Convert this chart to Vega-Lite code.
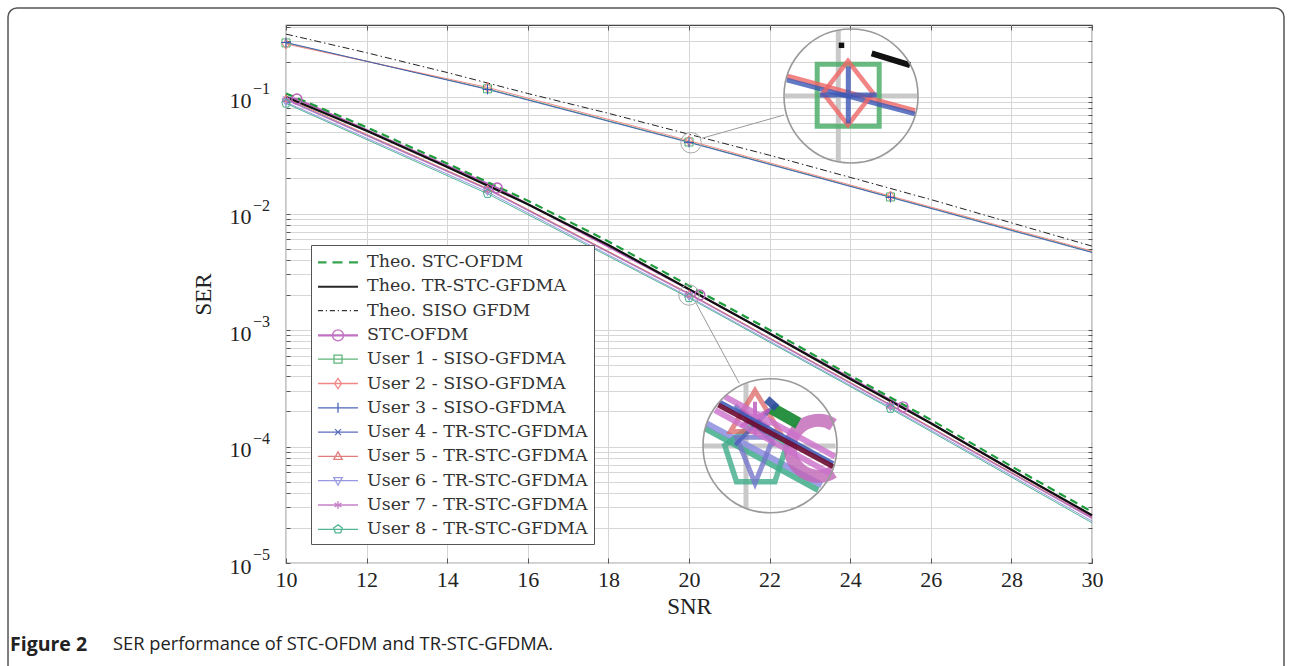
{
  "$schema": "https://vega.github.io/schema/vega-lite/v6.json",
  "width": 806,
  "height": 538,
  "autosize": {"type": "none"},
  "padding": {"left": 286, "top": 25, "right": 200, "bottom": 103},
  "background": "white",
  "config": {
    "view": {"stroke": "#444", "strokeWidth": 1.2},
    "axis": {
      "gridColor": "#d6d6d6",
      "gridWidth": 1,
      "domain": false,
      "ticks": true,
      "tickSize": -5,
      "tickColor": "#555",
      "labelFont": "Liberation Serif",
      "titleFont": "Liberation Serif",
      "labelColor": "#222",
      "titleColor": "#222",
      "titleFontWeight": "normal",
      "labelFontSize": 22,
      "titleFontSize": 23
    }
  },
  "datasets": {
    "curves": [
      {"series": "Theo. STC-OFDM", "snr": 10, "ser": 0.1072},
      {"series": "Theo. STC-OFDM", "snr": 12, "ser": 0.0550},
      {"series": "Theo. STC-OFDM", "snr": 14, "ser": 0.02692},
      {"series": "Theo. STC-OFDM", "snr": 16, "ser": 0.01288},
      {"series": "Theo. STC-OFDM", "snr": 18, "ser": 0.005754},
      {"series": "Theo. STC-OFDM", "snr": 20, "ser": 0.002399},
      {"series": "Theo. STC-OFDM", "snr": 22, "ser": 0.001},
      {"series": "Theo. STC-OFDM", "snr": 24, "ser": 0.0004074},
      {"series": "Theo. STC-OFDM", "snr": 26, "ser": 0.0001698},
      {"series": "Theo. STC-OFDM", "snr": 28, "ser": 0.0000676},
      {"series": "Theo. STC-OFDM", "snr": 30, "ser": 0.0000275},
      {"series": "Theo. TR-STC-GFDMA", "snr": 10, "ser": 0.1},
      {"series": "Theo. TR-STC-GFDMA", "snr": 12, "ser": 0.05129},
      {"series": "Theo. TR-STC-GFDMA", "snr": 14, "ser": 0.02512},
      {"series": "Theo. TR-STC-GFDMA", "snr": 16, "ser": 0.01202},
      {"series": "Theo. TR-STC-GFDMA", "snr": 18, "ser": 0.00537},
      {"series": "Theo. TR-STC-GFDMA", "snr": 20, "ser": 0.002239},
      {"series": "Theo. TR-STC-GFDMA", "snr": 22, "ser": 0.000933},
      {"series": "Theo. TR-STC-GFDMA", "snr": 24, "ser": 0.00038},
      {"series": "Theo. TR-STC-GFDMA", "snr": 26, "ser": 0.0001585},
      {"series": "Theo. TR-STC-GFDMA", "snr": 28, "ser": 0.0000631},
      {"series": "Theo. TR-STC-GFDMA", "snr": 30, "ser": 0.0000257},
      {"series": "Theo. SISO GFDM", "snr": 10, "ser": 0.3467},
      {"series": "Theo. SISO GFDM", "snr": 12, "ser": 0.2399},
      {"series": "Theo. SISO GFDM", "snr": 14, "ser": 0.1622},
      {"series": "Theo. SISO GFDM", "snr": 16, "ser": 0.1072},
      {"series": "Theo. SISO GFDM", "snr": 18, "ser": 0.07244},
      {"series": "Theo. SISO GFDM", "snr": 20, "ser": 0.04786},
      {"series": "Theo. SISO GFDM", "snr": 22, "ser": 0.03162},
      {"series": "Theo. SISO GFDM", "snr": 24, "ser": 0.02042},
      {"series": "Theo. SISO GFDM", "snr": 26, "ser": 0.01318},
      {"series": "Theo. SISO GFDM", "snr": 28, "ser": 0.008318},
      {"series": "Theo. SISO GFDM", "snr": 30, "ser": 0.005248},
      {"series": "STC-OFDM", "snr": 10, "ser": 0.09886},
      {"series": "STC-OFDM", "snr": 10.27, "ser": 0.09616},
      {"series": "STC-OFDM", "snr": 15.24, "ser": 0.01656},
      {"series": "STC-OFDM", "snr": 20.27, "ser": 0.001995},
      {"series": "STC-OFDM", "snr": 25.31, "ser": 0.0002188},
      {"series": "STC-OFDM", "snr": 30, "ser": 0.00002512},
      {"series": "User 1 - SISO-GFDMA", "snr": 10, "ser": 0.2911},
      {"series": "User 1 - SISO-GFDMA", "snr": 15, "ser": 0.1175},
      {"series": "User 1 - SISO-GFDMA", "snr": 20, "ser": 0.04111},
      {"series": "User 1 - SISO-GFDMA", "snr": 25, "ser": 0.01387},
      {"series": "User 1 - SISO-GFDMA", "snr": 30, "ser": 0.004677},
      {"series": "User 2 - SISO-GFDMA", "snr": 10, "ser": 0.2851},
      {"series": "User 2 - SISO-GFDMA", "snr": 15, "ser": 0.1208},
      {"series": "User 2 - SISO-GFDMA", "snr": 20, "ser": 0.04217},
      {"series": "User 2 - SISO-GFDMA", "snr": 25, "ser": 0.01413},
      {"series": "User 2 - SISO-GFDMA", "snr": 30, "ser": 0.004764},
      {"series": "User 3 - SISO-GFDMA", "snr": 10, "ser": 0.2938},
      {"series": "User 3 - SISO-GFDMA", "snr": 15, "ser": 0.1161},
      {"series": "User 3 - SISO-GFDMA", "snr": 20, "ser": 0.04074},
      {"series": "User 3 - SISO-GFDMA", "snr": 25, "ser": 0.01374},
      {"series": "User 3 - SISO-GFDMA", "snr": 30, "ser": 0.004624},
      {"series": "User 4 - TR-STC-GFDMA", "snr": 10, "ser": 0.0955},
      {"series": "User 4 - TR-STC-GFDMA", "snr": 15, "ser": 0.01622},
      {"series": "User 4 - TR-STC-GFDMA", "snr": 20, "ser": 0.002042},
      {"series": "User 4 - TR-STC-GFDMA", "snr": 25, "ser": 0.0002265},
      {"series": "User 4 - TR-STC-GFDMA", "snr": 30, "ser": 0.00002427},
      {"series": "User 5 - TR-STC-GFDMA", "snr": 10, "ser": 0.09772},
      {"series": "User 5 - TR-STC-GFDMA", "snr": 15, "ser": 0.01641},
      {"series": "User 5 - TR-STC-GFDMA", "snr": 20, "ser": 0.002065},
      {"series": "User 5 - TR-STC-GFDMA", "snr": 25, "ser": 0.0002291},
      {"series": "User 5 - TR-STC-GFDMA", "snr": 30, "ser": 0.00002455},
      {"series": "User 6 - TR-STC-GFDMA", "snr": 10, "ser": 0.09016},
      {"series": "User 6 - TR-STC-GFDMA", "snr": 15, "ser": 0.01531},
      {"series": "User 6 - TR-STC-GFDMA", "snr": 20, "ser": 0.001928},
      {"series": "User 6 - TR-STC-GFDMA", "snr": 25, "ser": 0.0002163},
      {"series": "User 6 - TR-STC-GFDMA", "snr": 30, "ser": 0.00002291},
      {"series": "User 7 - TR-STC-GFDMA", "snr": 10, "ser": 0.09441},
      {"series": "User 7 - TR-STC-GFDMA", "snr": 15, "ser": 0.01603},
      {"series": "User 7 - TR-STC-GFDMA", "snr": 20, "ser": 0.002018},
      {"series": "User 7 - TR-STC-GFDMA", "snr": 25, "ser": 0.0002239},
      {"series": "User 7 - TR-STC-GFDMA", "snr": 30, "ser": 0.00002399},
      {"series": "User 8 - TR-STC-GFDMA", "snr": 10, "ser": 0.0881},
      {"series": "User 8 - TR-STC-GFDMA", "snr": 15, "ser": 0.01479},
      {"series": "User 8 - TR-STC-GFDMA", "snr": 20, "ser": 0.001884},
      {"series": "User 8 - TR-STC-GFDMA", "snr": 25, "ser": 0.0002113},
      {"series": "User 8 - TR-STC-GFDMA", "snr": 30, "ser": 0.00002213}
    ],
    "decades": [
      {"snr": 10, "ser": 0.1, "exp": "−1"},
      {"snr": 10, "ser": 0.01, "exp": "−2"},
      {"snr": 10, "ser": 0.001, "exp": "−3"},
      {"snr": 10, "ser": 0.0001, "exp": "−4"},
      {"snr": 10, "ser": 0.00001, "exp": "−5"}
    ],
    "annot": [
      {"id": "frame", "snr": 3.102, "snr2": 34.764, "ser": 0.5807, "ser2": 6.67e-7},
      {"id": "cap", "snr": 3.151, "ser": 1.977e-6, "label": "Figure 2"},
      {"id": "cap2", "snr": 5.707, "ser": 1.977e-6, "label": "SER performance of STC-OFDM and TR-STC-GFDMA."},
      {"id": "bigc", "snr": 24.02, "ser": 0.102},
      {"id": "bigc", "snr": 22.01, "ser": 0.00010139},
      {"id": "smallc", "snr": 20.05, "ser": 0.04052},
      {"id": "smallc", "snr": 20.0, "ser": 0.001997},
      {"id": "conn", "snr": 20.315, "ser": 0.04419, "snr2": 22.357, "ser2": 0.07006},
      {"id": "conn", "snr": 20.174, "ser": 0.001705, "snr2": 21.248, "ser2": 0.0003487},
      {"id": "zgrid", "snr": 23.705, "ser": 0.3759, "snr2": 23.705, "ser2": 0.02783},
      {"id": "zgrid", "snr": 22.382, "ser": 0.102, "snr2": 25.658, "ser2": 0.102},
      {"id": "zgrid", "snr": 21.414, "ser": 0.0003508, "snr2": 21.414, "ser2": 0.00002936},
      {"id": "zgrid", "snr": 20.347, "ser": 0.00010099, "snr2": 23.635, "ser2": 0.00010099},
      {"id": "m1red", "snr": 22.424, "ser": 0.15149, "snr2": 25.608, "ser2": 0.07625},
      {"id": "m1blue", "snr": 22.424, "ser": 0.13993, "snr2": 25.608, "ser2": 0.07145},
      {"id": "m1sq", "snr": 23.95, "ser": 0.10363},
      {"id": "m1dia", "snr": 23.945, "ser": 0.10822},
      {"id": "m1plus", "snr": 23.953, "ser": 0.10403},
      {"id": "m1dot", "snr": 23.784, "ser": 0.27781},
      {"id": "m1dash", "snr": 24.533, "ser": 0.23719, "snr2": 25.484, "ser2": 0.18821},
      {"id": "m2teal", "snr": 20.397, "ser": 0.00014327, "snr2": 23.208, "ser2": 0.00004232},
      {"id": "m2lav", "snr": 20.439, "ser": 0.00015811, "snr2": 23.293, "ser2": 0.00004672},
      {"id": "m2pink", "snr": 20.645, "ser": 0.00020564, "snr2": 23.499, "ser2": 0.00005888},
      {"id": "m2pink", "snr": 20.893, "ser": 0.00026761, "snr2": 23.623, "ser2": 0.00008176},
      {"id": "m2dark", "snr": 20.727, "ser": 0.0002271, "snr2": 23.581, "ser2": 0.00006707},
      {"id": "m2blue", "snr": 20.769, "ser": 0.00024238, "snr2": 23.581, "ser2": 0.00007175},
      {"id": "m2green", "snr": 22.05, "ser": 0.00021266, "snr2": 22.712, "ser2": 0.00015811},
      {"id": "m2bseg", "snr": 21.928, "ser": 0.00025412, "snr2": 22.176, "ser2": 0.00021393},
      {"id": "m2arc", "snr": 23.208, "ser": 0.0000965},
      {"id": "m2tri", "snr": 21.638, "ser": 0.00019393},
      {"id": "m2trid", "snr": 21.638, "ser": 0.00007967},
      {"id": "m2pent", "snr": 21.655, "ser": 0.00008404},
      {"id": "m2star", "snr": 21.638, "ser": 0.00017468},
      {"id": "m2x", "snr": 21.638, "ser": 0.0001529}
    ]
  },
  "encoding": {
    "x": {
      "field": "snr",
      "type": "quantitative",
      "scale": {"domain": [10, 30], "nice": false, "zero": false},
      "axis": {
        "title": "SNR",
        "values": [10, 12, 14, 16, 18, 20, 22, 24, 26, 28, 30],
        "labelFlush": false,
        "labelPadding": 11,
        "titlePadding": 5
      }
    },
    "y": {
      "field": "ser",
      "type": "quantitative",
      "scale": {"type": "log", "domain": [0.00001, 0.415], "nice": false},
      "axis": {
        "title": "SER",
        "values": [0.00001, 0.00002, 0.00003, 0.00004, 0.00005, 0.00006, 0.00007, 0.00008, 0.00009,
                   0.0001, 0.0002, 0.0003, 0.0004, 0.0005, 0.0006, 0.0007, 0.0008, 0.0009,
                   0.001, 0.002, 0.003, 0.004, 0.005, 0.006, 0.007, 0.008, 0.009,
                   0.01, 0.02, 0.03, 0.04, 0.05, 0.06, 0.07, 0.08, 0.09,
                   0.1, 0.2, 0.3, 0.4],
        "labelExpr": "(datum.value == 0.1 || datum.value == 0.01 || datum.value == 0.001 || datum.value == 0.0001 || datum.value == 0.00001) ? '10' : ''",
        "labelOverlap": false,
        "labelPadding": 39,
        "labelOffset": 3,
        "tickSize": -4,
        "titlePadding": 14
      }
    }
  },
  "resolve": {"axis": {"x": "independent", "y": "independent"}},
  "layer": [
    {
      "layer": [
        {
          "data": {"name": "annot"},
          "transform": [{"filter": "datum.id == 'frame'"}],
          "mark": {"type": "rect", "fill": null, "fillOpacity": 0, "stroke": "#555", "strokeWidth": 1.5, "cornerRadius": 9},
          "encoding": {"x2": {"field": "snr2"}, "y2": {"field": "ser2"}}
        },
        {
          "data": {"name": "annot"},
          "transform": [{"filter": "datum.id == 'cap'"}],
          "mark": {"type": "text", "align": "left", "baseline": "middle", "font": "Open Sans", "fontSize": 19.5, "fontWeight": "bold", "color": "#222"},
          "encoding": {"text": {"field": "label"}}
        },
        {
          "data": {"name": "annot"},
          "transform": [{"filter": "datum.id == 'cap2'"}],
          "mark": {"type": "text", "align": "left", "baseline": "middle", "font": "Open Sans", "fontSize": 18.3, "color": "#222"},
          "encoding": {"text": {"field": "label"}}
        },
        {
          "data": {"name": "decades"},
          "mark": {"type": "text", "align": "left", "baseline": "middle", "dx": -33, "dy": -8, "font": "Liberation Serif", "fontSize": 16, "color": "#222"},
          "encoding": {"text": {"field": "exp"}}
        },
        {
          "data": {"name": "curves"},
          "transform": [{"filter": "datum.series == 'Theo. SISO GFDM'"}],
          "mark": {"type": "line", "strokeWidth": 1, "strokeDash": [7, 3, 1.5, 3]},
          "encoding": {"color": {"field": "series", "type": "nominal"}}
        },
        {
          "data": {"name": "curves"},
          "transform": [{"filter": "indexof(datum.series, 'User') == 0"}],
          "mark": {"type": "line", "strokeWidth": 1, "opacity": 0.9},
          "encoding": {"color": {"field": "series", "type": "nominal"}}
        },
        {
          "data": {"name": "curves"},
          "transform": [{"filter": "datum.series == 'STC-OFDM'"}],
          "mark": {"type": "line", "strokeWidth": 2},
          "encoding": {"color": {"field": "series", "type": "nominal"}}
        },
        {
          "data": {"name": "curves"},
          "transform": [{"filter": "datum.series == 'Theo. TR-STC-GFDMA'"}],
          "mark": {"type": "line", "strokeWidth": 2.2},
          "encoding": {"color": {"field": "series", "type": "nominal"}}
        },
        {
          "data": {"name": "curves"},
          "transform": [{"filter": "datum.series == 'Theo. STC-OFDM'"}],
          "mark": {"type": "line", "strokeWidth": 2.2, "strokeDash": [8, 5]},
          "encoding": {"color": {"field": "series", "type": "nominal"}}
        },
        {
          "data": {"name": "curves"},
          "transform": [{"filter": "datum.series == 'User 1 - SISO-GFDMA' && datum.snr < 29"}],
          "mark": {"type": "point", "shape": "square", "size": 64, "filled": false, "strokeWidth": 1, "opacity": 1},
          "encoding": {"color": {"field": "series", "type": "nominal"}}
        },
        {
          "data": {"name": "curves"},
          "transform": [{"filter": "datum.series == 'User 2 - SISO-GFDMA' && datum.snr < 29"}],
          "mark": {"type": "point", "shape": "M-0.7,0L0,-1L0.7,0L0,1Z", "size": 100, "filled": false, "strokeWidth": 1, "opacity": 1},
          "encoding": {"color": {"field": "series", "type": "nominal"}}
        },
        {
          "data": {"name": "curves"},
          "transform": [{"filter": "datum.series == 'User 3 - SISO-GFDMA' && datum.snr < 29"}],
          "mark": {"type": "point", "shape": "M-1,0L1,0M0,-1L0,1", "size": 100, "filled": false, "strokeWidth": 1, "opacity": 1},
          "encoding": {"color": {"field": "series", "type": "nominal"}}
        },
        {
          "data": {"name": "curves"},
          "transform": [{"filter": "datum.series == 'User 4 - TR-STC-GFDMA' && datum.snr < 29"}],
          "mark": {"type": "point", "shape": "M-1,-1L1,1M-1,1L1,-1", "size": 36, "filled": false, "strokeWidth": 1, "opacity": 1},
          "encoding": {"color": {"field": "series", "type": "nominal"}}
        },
        {
          "data": {"name": "curves"},
          "transform": [{"filter": "datum.series == 'User 5 - TR-STC-GFDMA' && datum.snr < 29"}],
          "mark": {"type": "point", "shape": "triangle-up", "size": 64, "filled": false, "strokeWidth": 1, "opacity": 1},
          "encoding": {"color": {"field": "series", "type": "nominal"}}
        },
        {
          "data": {"name": "curves"},
          "transform": [{"filter": "datum.series == 'User 6 - TR-STC-GFDMA' && datum.snr < 29"}],
          "mark": {"type": "point", "shape": "triangle-down", "size": 64, "filled": false, "strokeWidth": 1, "opacity": 1},
          "encoding": {"color": {"field": "series", "type": "nominal"}}
        },
        {
          "data": {"name": "curves"},
          "transform": [{"filter": "datum.series == 'User 7 - TR-STC-GFDMA' && datum.snr < 29"}],
          "mark": {"type": "point", "shape": "M0,-1L0,1M-0.87,-0.5L0.87,0.5M-0.87,0.5L0.87,-0.5", "size": 64, "filled": false, "strokeWidth": 1, "opacity": 1},
          "encoding": {"color": {"field": "series", "type": "nominal"}}
        },
        {
          "data": {"name": "curves"},
          "transform": [{"filter": "datum.series == 'User 8 - TR-STC-GFDMA' && datum.snr < 29"}],
          "mark": {"type": "point", "shape": "M0,-1L0.951,-0.309L0.588,0.809L-0.588,0.809L-0.951,-0.309Z", "size": 81, "filled": false, "strokeWidth": 1, "opacity": 1},
          "encoding": {"color": {"field": "series", "type": "nominal"}}
        },
        {
          "data": {"name": "curves"},
          "transform": [{"filter": "datum.series == 'STC-OFDM' && datum.snr > 10.1 && datum.snr < 29"}],
          "mark": {"type": "point", "shape": "circle", "size": 100, "filled": false, "strokeWidth": 1.4, "opacity": 1},
          "encoding": {"color": {"field": "series", "type": "nominal"}}
        },
        {
          "data": {"name": "annot"},
          "transform": [{"filter": "datum.id == 'zgrid'"}],
          "mark": {"type": "rule", "color": "#c9c9c9", "strokeWidth": 5, "strokeCap": "butt"},
          "encoding": {"x2": {"field": "snr2"}, "y2": {"field": "ser2"}}
        },
        {
          "data": {"name": "annot"},
          "transform": [{"filter": "datum.id == 'm1dot'"}],
          "mark": {"type": "point", "shape": "square", "size": 30, "filled": true, "color": "#111", "opacity": 1}
        },
        {
          "data": {"name": "annot"},
          "transform": [{"filter": "datum.id == 'm1dash'"}],
          "mark": {"type": "rule", "color": "#111", "strokeWidth": 6, "strokeCap": "butt"},
          "encoding": {"x2": {"field": "snr2"}, "y2": {"field": "ser2"}}
        },
        {
          "data": {"name": "annot"},
          "transform": [{"filter": "datum.id == 'm1sq'"}],
          "mark": {"type": "point", "shape": "square", "size": 3844, "filled": false, "color": "#4fae6c", "strokeWidth": 5, "opacity": 0.85}
        },
        {
          "data": {"name": "annot"},
          "transform": [{"filter": "datum.id == 'm1red'"}],
          "mark": {"type": "rule", "color": "#ee6666", "strokeWidth": 5, "opacity": 0.8, "strokeCap": "butt"},
          "encoding": {"x2": {"field": "snr2"}, "y2": {"field": "ser2"}}
        },
        {
          "data": {"name": "annot"},
          "transform": [{"filter": "datum.id == 'm1blue'"}],
          "mark": {"type": "rule", "color": "#3b57b5", "strokeWidth": 4.5, "opacity": 0.8, "strokeCap": "butt"},
          "encoding": {"x2": {"field": "snr2"}, "y2": {"field": "ser2"}}
        },
        {
          "data": {"name": "annot"},
          "transform": [{"filter": "datum.id == 'm1dia'"}],
          "mark": {"type": "point", "shape": "M-0.78,0L0,-1L0.78,0L0,1Z", "size": 4096, "filled": false, "color": "#ee6666", "strokeWidth": 4.5, "opacity": 0.8}
        },
        {
          "data": {"name": "annot"},
          "transform": [{"filter": "datum.id == 'm1plus'"}],
          "mark": {"type": "point", "shape": "M-1,0L1,0M0,-1L0,1", "size": 3249, "filled": false, "color": "#3b57b5", "strokeWidth": 5, "opacity": 0.8}
        },
        {
          "data": {"name": "annot"},
          "transform": [{"filter": "datum.id == 'm2teal'"}],
          "mark": {"type": "rule", "color": "#40ad8b", "strokeWidth": 6, "opacity": 0.85, "strokeCap": "butt"},
          "encoding": {"x2": {"field": "snr2"}, "y2": {"field": "ser2"}}
        },
        {
          "data": {"name": "annot"},
          "transform": [{"filter": "datum.id == 'm2lav'"}],
          "mark": {"type": "rule", "color": "#8d8de0", "strokeWidth": 6, "opacity": 0.85, "strokeCap": "butt"},
          "encoding": {"x2": {"field": "snr2"}, "y2": {"field": "ser2"}}
        },
        {
          "data": {"name": "annot"},
          "transform": [{"filter": "datum.id == 'm2pent'"}],
          "mark": {"type": "point", "shape": "M0,-1L0.951,-0.309L0.588,0.809L-0.588,0.809L-0.951,-0.309Z", "size": 4251, "filled": false, "color": "#40ad8b", "strokeWidth": 5.5, "opacity": 0.8}
        },
        {
          "data": {"name": "annot"},
          "transform": [{"filter": "datum.id == 'm2trid'"}],
          "mark": {"type": "point", "shape": "M-1,-1.12L1,-1.12L0,1.37Z", "size": 1369, "filled": false, "color": "#7777cc", "strokeWidth": 5, "opacity": 0.8}
        },
        {
          "data": {"name": "annot"},
          "transform": [{"filter": "datum.id == 'm2tri'"}],
          "mark": {"type": "point", "shape": "M0,-0.91L1,0.76L-1,0.76Z", "size": 2401, "filled": false, "color": "#dd6666", "strokeWidth": 5, "opacity": 0.75}
        },
        {
          "data": {"name": "annot"},
          "transform": [{"filter": "datum.id == 'm2x'"}],
          "mark": {"type": "point", "shape": "M-1,-1L1,1M-1,1L1,-1", "size": 1600, "filled": false, "color": "#4b5fb8", "strokeWidth": 4, "opacity": 0.75}
        },
        {
          "data": {"name": "annot"},
          "transform": [{"filter": "datum.id == 'm2star'"}],
          "mark": {"type": "point", "shape": "M0,-1L0,1M-0.87,-0.5L0.87,0.5M-0.87,0.5L0.87,-0.5", "size": 1089, "filled": false, "color": "#bb55bb", "strokeWidth": 4, "opacity": 0.8}
        },
        {
          "data": {"name": "annot"},
          "transform": [{"filter": "datum.id == 'm2arc'"}],
          "mark": {"type": "point", "shape": "M0.536,-0.844A1,1 0 1 0 0.536,0.844", "size": 3136, "filled": false, "color": "#c066b6", "strokeWidth": 13, "opacity": 0.8, "strokeCap": "butt"}
        },
        {
          "data": {"name": "annot"},
          "transform": [{"filter": "datum.id == 'm2pink'"}],
          "mark": {"type": "rule", "color": "#cc70cc", "strokeWidth": 6, "opacity": 0.8, "strokeCap": "butt"},
          "encoding": {"x2": {"field": "snr2"}, "y2": {"field": "ser2"}}
        },
        {
          "data": {"name": "annot"},
          "transform": [{"filter": "datum.id == 'm2blue'"}],
          "mark": {"type": "rule", "color": "#3b57b5", "strokeWidth": 4, "opacity": 0.85, "strokeCap": "butt"},
          "encoding": {"x2": {"field": "snr2"}, "y2": {"field": "ser2"}}
        },
        {
          "data": {"name": "annot"},
          "transform": [{"filter": "datum.id == 'm2dark'"}],
          "mark": {"type": "rule", "color": "#6a0a30", "strokeWidth": 5, "opacity": 0.9, "strokeCap": "butt"},
          "encoding": {"x2": {"field": "snr2"}, "y2": {"field": "ser2"}}
        },
        {
          "data": {"name": "annot"},
          "transform": [{"filter": "datum.id == 'm2green'"}],
          "mark": {"type": "rule", "color": "#1e8c38", "strokeWidth": 12, "opacity": 0.95, "strokeCap": "butt"},
          "encoding": {"x2": {"field": "snr2"}, "y2": {"field": "ser2"}}
        },
        {
          "data": {"name": "annot"},
          "transform": [{"filter": "datum.id == 'm2bseg'"}],
          "mark": {"type": "rule", "color": "#2f4f9f", "strokeWidth": 8, "opacity": 0.9, "strokeCap": "butt"},
          "encoding": {"x2": {"field": "snr2"}, "y2": {"field": "ser2"}}
        },
        {
          "data": {"name": "annot"},
          "transform": [{"filter": "datum.id == 'conn'"}],
          "mark": {"type": "rule", "color": "#999", "strokeWidth": 1},
          "encoding": {"x2": {"field": "snr2"}, "y2": {"field": "ser2"}}
        },
        {
          "data": {"name": "annot"},
          "transform": [{"filter": "datum.id == 'smallc'"}],
          "mark": {"type": "point", "shape": "circle", "size": 420, "filled": false, "color": "#aaa", "strokeWidth": 1, "opacity": 1}
        },
        {
          "data": {"name": "annot"},
          "transform": [{"filter": "datum.id == 'bigc'"}],
          "mark": {"type": "point", "shape": "circle", "size": 17956, "filled": false, "color": "#999", "strokeWidth": 1.6, "opacity": 1}
        },
        {
          "data": {"name": "curves"},
          "transform": [{"filter": "datum.snr < 0"}],
          "mark": {"type": "point", "filled": false, "opacity": 1, "strokeWidth": 1.3, "size": 400},
          "encoding": {
            "color": {
              "field": "series",
              "type": "nominal",
              "scale": {
                "domain": ["Theo. STC-OFDM", "Theo. TR-STC-GFDMA", "Theo. SISO GFDM", "STC-OFDM", "User 1 - SISO-GFDMA", "User 2 - SISO-GFDMA", "User 3 - SISO-GFDMA", "User 4 - TR-STC-GFDMA", "User 5 - TR-STC-GFDMA", "User 6 - TR-STC-GFDMA", "User 7 - TR-STC-GFDMA", "User 8 - TR-STC-GFDMA"],
                "range": ["#1e9b3c", "#111111", "#222222", "#bb62bb", "#4fae6c", "#ef7b7b", "#3b57b5", "#4b5fb8", "#df6f6f", "#8d8de0", "#c274c2", "#40ad8b"]
              },
              "legend": {
                "title": null, "orient": "none", "legendX": 25, "legendY": 220, "direction": "vertical",
                "padding": 6, "fillColor": "white", "strokeColor": "#555",
                "labelFont": "DejaVu Serif", "labelFontSize": 17.5, "labelColor": "#333", "labelLimit": 0,
                "symbolSize": 400, "symbolStrokeWidth": 1.3, "rowPadding": 4.3, "labelOffset": 28
              }
            },
            "shape": {
              "field": "series",
              "type": "nominal",
              "scale": {
                "domain": ["Theo. STC-OFDM", "Theo. TR-STC-GFDMA", "Theo. SISO GFDM", "STC-OFDM", "User 1 - SISO-GFDMA", "User 2 - SISO-GFDMA", "User 3 - SISO-GFDMA", "User 4 - TR-STC-GFDMA", "User 5 - TR-STC-GFDMA", "User 6 - TR-STC-GFDMA", "User 7 - TR-STC-GFDMA", "User 8 - TR-STC-GFDMA"],
                "range": [
                  "M-1,0L-0.15,0M0.45,0L1.45,0M2.1,0L3,0M-1,0.08L-0.15,0.08M0.45,0.08L1.45,0.08M2.1,0.08L3,0.08",
                  "M-1,0L3,0M-1,0.08L3,0.08",
                  "M-1,0L-0.5,0M-0.22,0L-0.1,0M0.18,0L0.7,0M0.98,0L1.1,0M1.38,0L1.9,0M2.18,0L2.3,0M2.58,0L3,0",
                  "M-1,0L3,0M-1,0.1L3,0.1M1.55,0.05A0.55,0.55 0 1 1 0.45,0.05A0.55,0.55 0 1 1 1.55,0.05",
                  "M-1,0L3,0M0.6,-0.4L1.4,-0.4L1.4,0.4L0.6,0.4Z",
                  "M-1,0L3,0M0.65,0L1,-0.5L1.35,0L1,0.5Z",
                  "M-1,0L3,0M1,-0.5L1,0.5",
                  "M-1,0L3,0M0.7,-0.3L1.3,0.3M0.7,0.3L1.3,-0.3",
                  "M-1,0L3,0M1,-0.45L1.42,0.3L0.58,0.3Z",
                  "M-1,0L3,0M0.58,-0.3L1.42,-0.3L1,0.45Z",
                  "M-1,0L3,0M1,-0.4L1,0.4M0.65,-0.2L1.35,0.2M0.65,0.2L1.35,-0.2",
                  "M-1,0L3,0M1,-0.45L1.428,-0.139L1.265,0.364L0.735,0.364L0.572,-0.139Z"
                ]
              },
              "legend": {
                "title": null, "orient": "none", "legendX": 25, "legendY": 220, "direction": "vertical",
                "padding": 6, "fillColor": "white", "strokeColor": "#555",
                "labelFont": "DejaVu Serif", "labelFontSize": 17.5, "labelColor": "#333", "labelLimit": 0,
                "symbolSize": 400, "symbolStrokeWidth": 1.3, "rowPadding": 4.3, "labelOffset": 28
              }
            }
          }
        }
      ]
    },
    {
      "data": {"name": "decades"},
      "mark": {"type": "point", "opacity": 0},
      "encoding": {
        "x": {
          "field": "snr",
          "type": "quantitative",
          "scale": {"domain": [10, 30], "nice": false, "zero": false},
          "axis": {"orient": "top", "values": [10, 12, 14, 16, 18, 20, 22, 24, 26, 28, 30], "labels": false, "grid": false, "title": null, "domain": false, "tickSize": -5}
        },
        "y": {
          "field": "ser",
          "type": "quantitative",
          "scale": {"type": "log", "domain": [0.00001, 0.415], "nice": false},
          "axis": {
            "orient": "right",
            "values": [0.00001, 0.00002, 0.00003, 0.00004, 0.00005, 0.00006, 0.00007, 0.00008, 0.00009,
                       0.0001, 0.0002, 0.0003, 0.0004, 0.0005, 0.0006, 0.0007, 0.0008, 0.0009,
                       0.001, 0.002, 0.003, 0.004, 0.005, 0.006, 0.007, 0.008, 0.009,
                       0.01, 0.02, 0.03, 0.04, 0.05, 0.06, 0.07, 0.08, 0.09,
                       0.1, 0.2, 0.3, 0.4],
            "labels": false, "grid": false, "title": null, "domain": false, "tickSize": -4
          }
        }
      }
    }
  ]
}
